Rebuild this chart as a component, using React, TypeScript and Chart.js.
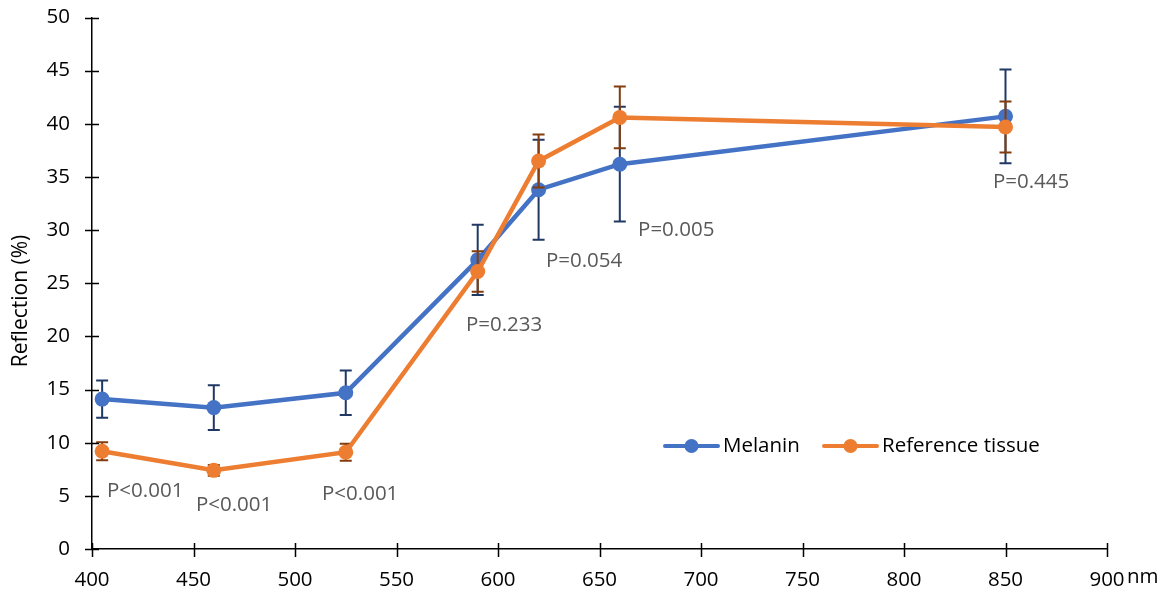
import React, { useEffect, useRef } from "react";
import { Chart, registerables } from "chart.js";

Chart.register(...registerables);

const wavelengths = [405, 460, 525, 590, 620, 660, 850];
const melanin = [14.1, 13.3, 14.7, 27.2, 33.8, 36.2, 40.7];
const melaninErr = [1.75, 2.1, 2.1, 3.3, 4.7, 5.4, 4.4];
const reference = [9.2, 7.4, 9.1, 26.1, 36.5, 40.6, 39.7];
const referenceErr = [0.85, 0.5, 0.8, 1.9, 2.5, 2.9, 2.4];
const pLabels = ["P<0.001", "P<0.001", "P<0.001", "P=0.233", "P=0.054", "P=0.005", "P=0.445"];
const pLabelX = [407.4, 451.2, 513.3, 584.2, 623.6, 669, 843.8];
const pLabelY = [5.46, 4.14, 5.18, 21.1, 27.1, 30.0, 34.5];
const xTicks = [400, 450, 500, 550, 600, 650, 700, 750, 800, 850, 900];
const yTicks = [0, 5, 10, 15, 20, 25, 30, 35, 40, 45, 50];
const yTitle = "Reflection (%)";
const xUnit = "nm";

const FONT = "'Open Sans', 'Noto Sans', sans-serif";
const BLUE = "#4472C4";
const ORANGE = "#ED7D31";
const BLUE_ERR = "#203864";
const ORANGE_ERR = "#843C0C";

const errorBars = {
  id: "errorBars",
  beforeDatasetDraw(chart: any, args: any) {
    const ds = chart.data.datasets[args.index];
    const errs: number[] = ds.errors;
    if (!errs) return;
    const { ctx } = chart;
    const xs = chart.scales.x;
    const ys = chart.scales.y;
    ctx.save();
    ctx.strokeStyle = ds.errColor;
    ctx.lineWidth = 2;
    ds.data.forEach((p: any, i: number) => {
      const px = xs.getPixelForValue(p.x);
      const top = ys.getPixelForValue(p.y + errs[i]);
      const bot = ys.getPixelForValue(p.y - errs[i]);
      ctx.beginPath();
      ctx.moveTo(px, top);
      ctx.lineTo(px, bot);
      ctx.moveTo(px - 6, top);
      ctx.lineTo(px + 6, top);
      ctx.moveTo(px - 6, bot);
      ctx.lineTo(px + 6, bot);
      ctx.stroke();
    });
    ctx.restore();
  },
};

const decorations = {
  id: "decorations",
  afterDraw(chart: any) {
    const { ctx, chartArea } = chart;
    const xs = chart.scales.x;
    const ys = chart.scales.y;
    ctx.save();
    // cross tick marks
    ctx.strokeStyle = "#000";
    ctx.lineWidth = 1.5;
    ctx.beginPath();
    yTicks.forEach((v) => {
      const py = Math.round(ys.getPixelForValue(v)) + 0.5;
      ctx.moveTo(chartArea.left - 7, py);
      ctx.lineTo(chartArea.left + 7, py);
    });
    xTicks.forEach((v) => {
      const px = Math.round(xs.getPixelForValue(v)) + 0.5;
      ctx.moveTo(px, chartArea.bottom - 6);
      ctx.lineTo(px, chartArea.bottom + 8);
    });
    ctx.stroke();

    // p-value labels
    ctx.fillStyle = "#595959";
    ctx.font = `20.5px ${FONT}`;
    ctx.textAlign = "left";
    ctx.textBaseline = "middle";
    pLabels.forEach((t, i) => {
      ctx.fillText(t, xs.getPixelForValue(pLabelX[i]), ys.getPixelForValue(pLabelY[i]));
    });

    // y title
    ctx.save();
    ctx.fillStyle = "#000";
    ctx.font = `21px ${FONT}`;
    ctx.textAlign = "center";
    ctx.textBaseline = "middle";
    ctx.translate(21, 301);
    ctx.rotate(-Math.PI / 2);
    ctx.fillText(yTitle, 0, 0);
    ctx.restore();

    // nm unit
    ctx.fillStyle = "#000";
    ctx.font = `20.5px ${FONT}`;
    ctx.textAlign = "left";
    ctx.textBaseline = "alphabetic";
    ctx.fillText(xUnit, chartArea.right + 20, chartArea.bottom + 34);

    // legend
    const items = [
      { label: "Melanin", color: BLUE, x0: 665 },
      { label: "Reference tissue", color: ORANGE, x0: 824 },
    ];
    const ly = 446;
    items.forEach((it) => {
      ctx.strokeStyle = it.color;
      ctx.lineWidth = 4;
      ctx.lineCap = "round";
      ctx.beginPath();
      ctx.moveTo(it.x0, ly);
      ctx.lineTo(it.x0 + 53, ly);
      ctx.stroke();
      ctx.fillStyle = it.color;
      ctx.beginPath();
      ctx.arc(it.x0 + 26.5, ly, 7, 0, Math.PI * 2);
      ctx.fill();
      ctx.fillStyle = "#000";
      ctx.font = `20.5px ${FONT}`;
      ctx.textBaseline = "middle";
      ctx.fillText(it.label, it.x0 + 58, ly);
    });
    ctx.restore();
  },
};

export default function App() {
  const ref = useRef<HTMLCanvasElement>(null);
  useEffect(() => {
    if (!ref.current) return;
    const chart = new Chart(ref.current, {
      type: "line",
      data: {
        datasets: [
          {
            label: "Melanin",
            data: wavelengths.map((x, i) => ({ x, y: melanin[i] })),
            borderColor: BLUE,
            backgroundColor: BLUE,
            borderWidth: 4.5,
            pointRadius: 7.5,
            pointBorderWidth: 0,
            pointBackgroundColor: BLUE,
            order: 2,
            errors: melaninErr,
            errColor: BLUE_ERR,
          } as any,
          {
            label: "Reference tissue",
            data: wavelengths.map((x, i) => ({ x, y: reference[i] })),
            borderColor: ORANGE,
            backgroundColor: ORANGE,
            borderWidth: 4.5,
            pointRadius: 7.5,
            pointBorderWidth: 0,
            pointBackgroundColor: ORANGE,
            order: 1,
            errors: referenceErr,
            errColor: ORANGE_ERR,
          } as any,
        ],
      },
      options: {
        animation: false,
        responsive: false,
        layout: { padding: { top: 17.5, right: 61, left: 0, bottom: 0 } },
        plugins: {
          legend: { display: false },
          tooltip: { enabled: false },
        },
        scales: {
          x: {
            type: "linear",
            min: 400,
            max: 900,
            afterBuildTicks: (s: any) => {
              s.ticks = xTicks.map((v) => ({ value: v }));
            },
            afterFit: (s: any) => {
              s.height = 45;
              s.paddingLeft = 0;
              s.paddingRight = 0;
            },
            grid: { display: false, drawTicks: false },
            border: { display: true, color: "#000", width: 1.5 },
            ticks: {
              color: "#000",
              font: { family: FONT, size: 20.5 },
              padding: 19,
              maxRotation: 0,
            },
          },
          y: {
            min: 0,
            max: 50,
            afterBuildTicks: (s: any) => {
              s.ticks = yTicks.map((v) => ({ value: v }));
            },
            afterFit: (s: any) => {
              s.width = 92;
              s.paddingTop = 0;
              s.paddingBottom = 0;
            },
            grid: { display: false, drawTicks: false },
            border: { display: true, color: "#000", width: 1.5 },
            ticks: {
              color: "#000",
              font: { family: FONT, size: 20.5 },
              padding: 22,
            },
          },
        },
      },
      plugins: [errorBars, decorations],
    });
    return () => chart.destroy();
  }, []);
  return (
    <div style={{ position: "fixed", left: 0, top: 0, width: 1168, height: 594, background: "#fff" }}>
      <canvas ref={ref} width={1168} height={594} style={{ width: 1168, height: 594 }} />
    </div>
  );
}
